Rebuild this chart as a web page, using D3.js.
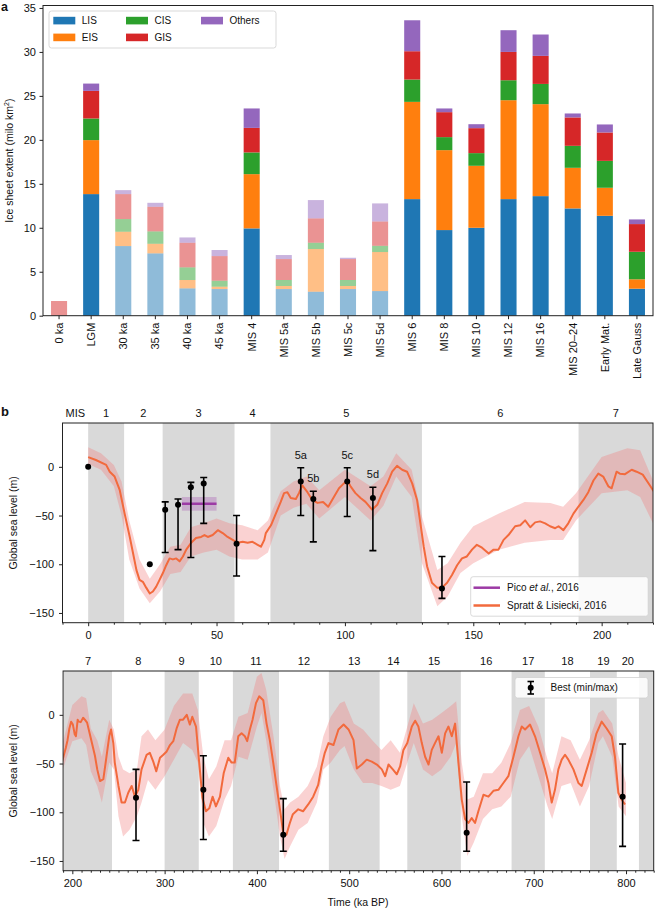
<!DOCTYPE html>
<html><head><meta charset="utf-8">
<script src="https://cdn.jsdelivr.net/npm/d3@7"></script>
<style>
body{margin:0;background:#fff;}
svg text{font-family:"Liberation Sans",Arial,Helvetica,sans-serif;fill:#111;}
</style></head>
<body>
<svg id="chart" width="655" height="909"></svg>
<script>
// ---------------- Panel a data ----------------
const categories = ["0 ka","LGM","30 ka","35 ka","40 ka","45 ka","MIS 4","MIS 5a","MIS 5b","MIS 5c","MIS 5d","MIS 6","MIS 8","MIS 10","MIS 12","MIS 16","MIS 20–24","Early Mat.","Late Gauss"];
const LIS    = [0, 13.83, 7.92, 7.09, 3.11, 3.03, 9.93, 3.03, 2.73, 3.03, 2.80, 13.26, 9.74, 10.00, 13.26, 13.60, 12.20, 11.36, 3.07];
const EIS    = [0, 6.14, 1.63, 1.09, 0.95, 0.27, 6.17, 0.35, 4.85, 0.35, 4.44, 11.06, 9.09, 7.05, 11.25, 10.46, 4.62, 3.19, 1.07];
const CIS    = [0, 2.46, 1.44, 1.41, 1.44, 0.68, 2.47, 0.68, 0.72, 0.68, 0.71, 2.54, 1.48, 1.44, 2.27, 2.30, 2.50, 3.06, 3.13];
const GIS    = [1.67, 3.14, 2.84, 2.80, 2.80, 2.80, 2.79, 2.38, 2.77, 2.38, 2.77, 3.22, 2.84, 2.84, 3.22, 3.19, 3.23, 3.23, 3.15];
const Others = [0, 0.83, 0.45, 0.45, 0.60, 0.69, 2.21, 0.46, 2.08, 0.15, 2.05, 3.52, 0.42, 0.45, 2.47, 2.43, 0.45, 0.91, 0.53];
const seriesNames = ["LIS","EIS","CIS","GIS","Others"];
const seriesColors = ["#1f77b4","#ff7f0e","#2ca02c","#d62728","#9467bd"];
const fadedCats = ["0 ka","30 ka","35 ka","40 ka","45 ka","MIS 5a","MIS 5b","MIS 5c","MIS 5d"];
const yTicksA = [0,5,10,15,20,25,30,35];

// ---------------- Panel b data ----------------
const slKa = [0,3,7,8.4,10.3,12.3,14.2,16.2,17.5,18.8,20,21.3,22.6,24,25.2,26.5,27.8,29.1,30.4,31.7,33,34.3,35.6,36.9,38.2,40.1,42,44,45.3,46.6,48.5,50.5,52.4,54.3,56.3,58.2,60.2,62.1,64,66,67.3,68.6,69.2,71.2,73.1,75,76.3,77.6,78.9,80.9,82.1,83.4,85.4,87.3,89.3,91.5,93.5,95.7,97.7,99.6,100.9,102.2,104.1,106.1,108,110.6,112.6,114.5,116.5,118.4,120.3,122.3,124.2,126.2,128.1,129.4,130.7,132,133.9,135.9,137.8,139.8,141.7,143.7,145.6,147.5,149.5,151.4,153.4,156,157.9,159.8,161.8,163.7,166.3,168.3,170.2,172.2,174.1,176,178,179.9,181.9,183.2,185.1,187,189,190.9,192.9,194.8,196.8,198.7,200.6,202.6,203.9,205.8,207.1,209.1,211.7,213.6,216,219,221.5,224.5,227,230,233.6,237,240,242,244.4,246,250,253.4,257,260.6,264.3,267.9,271.5,275,280.5,284,287.7,291,295,298.6,302,305.8,309.4,313,316.6,320,324,327.4,330,334,337.5,341,344.8,348.4,352,355.6,360,364,369,372.6,376,379.8,383.4,387,389.5,392.4,395.3,399,402.5,406.9,410.5,414,417.7,421.3,425,428.5,432,435.7,439,444.8,450,455.6,461,466.4,470,473.6,477.6,483,488.4,494,499.3,504.7,508.3,513.7,519,524.5,530,535.4,539,542.6,547.3,551.6,555.2,558.8,563,567.9,571.5,575,578.7,582.3,586,589.5,593,596.8,600.4,604,607.6,611.2,614.8,618.4,622,625.6,629.2,632.8,636.4,640,645.5,650.9,656.3,661.7,667.1,672.5,678,683.4,687,690.6,696,701.4,706.9,712.3,715.9,719.5,723,726.7,730.3,733.9,737.5,743,748.4,752,757.4,762.8,768,773.6,779,784.5,788,791.7,795.3,799];
const slVal = [10,7,2,-5,-10,-24,-48,-72,-89,-106,-116,-118,-124,-130,-128,-123,-116,-109,-101,-94,-95,-94,-97,-92,-85,-78,-73,-72,-70,-72,-70,-65,-68,-72,-75,-78,-77,-78,-77,-80,-82,-75,-68,-60,-48,-36,-27,-26,-32,-33,-27,-19,-26,-34,-37,-36,-41,-31,-22,-17,-14,-20,-27,-32,-36,-44,-39,-27,-17,-5,1,-3,-5,-17,-34,-58,-82,-102,-119,-124,-124,-119,-111,-101,-94,-92,-85,-80,-83,-89,-85,-85,-75,-70,-61,-60,-55,-62,-57,-56,-58,-61,-63,-61,-65,-58,-48,-41,-34,-26,-14,-7,-10,-20,-22,-5,-7,-7.5,-3,-5,-8,-20,-30,-42,-56,-68,-66,-43,-22,-15,-29,-49,-73,-90,-90,-80,-73,-84,-77,-56,-41,-39,-48,-58,-44,-41,-38,-31,-27,-14,-5,-5,0,-10,-2,-12,-49,-85,-99,-96,-84,-94,-84,-60,-44,-49,-49,-22,-19,-22,-27,-15,-5,12,19,15,-9,-26,-49,-73,-97,-121,-123,-111,-102,-97,-99,-92,-84,-72,-53,-39,-29,-31,-15,-10,-15,-26,-55,-51,-46,-48,-51,-56,-63,-51,-56,-61,-53,-36,-29,-12,-6,-12,-29,-43,-51,-36,-29,-22,-39,-19,-12,-22,-9,-49,-87,-107,-111,-106,-111,-99,-82,-84,-78,-77,-70,-63,-43,-22,-12,-15,-10,-22,-39,-56,-70,-90,-77,-56,-46,-41,-46,-56,-70,-73,-56,-39,-19,-7,-14,-22,-43,-80,-87,-92];
const bandKa = [0,5,10,13,16,20,24,28,32,36,40,45,50,55,60,66,70,75,80,85,90,100,110,115,120,126,130,136,140,145,150,160,170,180,185,190,200,210,215,220,227,232,240,245,250,255,262,270,275,282,290,300,310,320,330,336,342,348,356,365,372,380,390,400,405,410,418,425,430,436,445,455,465,472,480,490,495,505,515,525,535,545,555,563,570,580,590,600,610,616,622,628,635,645,655,665,675,685,695,705,715,720,730,740,750,760,770,775,785,792,800];
const bandUp = [20,14,2,-15,-55,-95,-115,-100,-82,-80,-62,-58,-53,-58,-60,-65,-55,-25,-15,-10,-24,-3,-20,-10,14,-3,-51,-106,-99,-78,-61,-48,-36,-37,-41,-27,10,19,17,-14,-26,-43,-5,-15,-43,-56,-60,-56,-22,-15,-26,-15,9,22,22,5,-43,-66,-53,-26,-26,-2,2,39,43,26,-22,-73,-97,-90,-84,-73,-53,-22,-2,12,14,-9,-15,-26,-36,-26,-39,-12,12,-9,-5,2,9,14,-49,-87,-84,-60,-60,-49,-29,5,9,-12,-46,-60,-22,-26,-46,-26,2,5,-9,-43,-70];
const bandLo = [3,-3,-20,-50,-95,-125,-140,-128,-110,-108,-92,-88,-85,-92,-95,-95,-88,-50,-42,-38,-53,-31,-55,-40,-10,-31,-99,-143,-133,-109,-99,-85,-78,-75,-75,-55,-27,-24,-31,-58,-73,-90,-49,-56,-104,-125,-118,-104,-90,-67,-77,-63,-46,-29,-36,-49,-111,-125,-114,-87,-73,-43,-46,-12,2,-26,-77,-125,-148,-135,-118,-111,-90,-56,-49,-36,-32,-56,-70,-70,-73,-77,-73,-49,-29,-56,-63,-56,-43,-29,-104,-145,-131,-107,-97,-94,-84,-46,-32,-63,-94,-107,-73,-70,-94,-73,-29,-22,-43,-94,-104];
// Best (min/max) estimates
const ebKa   = [30, 35, 40, 45, 57.8, 82.8, 87.7, 100.9, 110.9, 137.8, 269, 342, 428.6, 627.3, 796.3];
const ebBest = [-44, -39, -21, -17, -79, -15, -33, -15, -32, -125, -85, -77, -123, -121, -84];
const ebMin  = [-88, -85, -93, -58, -112, -50, -77, -51, -86, -135, -129, -128, -140, -140, -135];
const ebMax  = [-36, -33, -16, -11, -50, -1, -25, -1, -21, -92, -56, -42, -86, -69, -30];
const dotKa  = [0, 24];
const dotVal = [0, -100];
const subLabels = ["5a","5b","5c","5d"];
const subLabelIdx = [5,6,7,8];
// Pico et al. 2016
const picoKa = [36.5, 50];
const picoVal = -38;
const picoRange = [-45, -31];
// MIS boundaries (ka)
const misBounds = [0,14,29,57,71,130,191,243,300,337,374,424,478,533,563,621,676,712,761,790,814,900];
const misTopStages = [1,2,3,4,5,6,7];
const misBotStages = [7,8,9,10,11,12,13,14,15,16,17,18,19,20];
const slTicks = [-150,-100,-50,0];
const topXTicks = [0,50,100,150,200];
const botXTicks = [200,300,400,500,600,700,800];

// ---------------- Drawing ----------------
const svg = d3.select("#chart");
const font = '"Liberation Sans",Arial,Helvetica,sans-serif';
const spineColor = "#222";

// ===== Panel a =====
const xA = d3.scaleBand().domain(categories).range([43,653]).paddingInner(0.5).paddingOuter(0.25);
const yA = d3.scaleLinear().domain([0,35.28]).range([315.7,5.5]);
const gA = svg.append("g");
const seriesVals = [LIS,EIS,CIS,GIS,Others];
categories.forEach((c,i)=>{
  let base = 0;
  const faded = fadedCats.includes(c);
  seriesVals.forEach((arr,s)=>{
    const v = arr[i];
    if(v>0){
      gA.append("rect").attr("x",xA(c)).attr("width",xA.bandwidth())
        .attr("y",yA(base+v)).attr("height",yA(base)-yA(base+v))
        .attr("fill",seriesColors[s]).attr("fill-opacity",faded?0.5:1);
    }
    base += v;
  });
});
gA.append("rect").attr("x",43).attr("y",5.5).attr("width",610).attr("height",315.7-5.5)
  .attr("fill","none").attr("stroke",spineColor).attr("stroke-width",1);
const axA = gA.append("g").attr("transform","translate(43,0)")
  .call(d3.axisLeft(yA).tickValues(yTicksA).tickSize(3.5).tickPadding(3.5));
axA.select(".domain").remove();
const axAx = gA.append("g").attr("transform","translate(0,315.7)")
  .call(d3.axisBottom(xA).tickSize(3.5).tickPadding(4));
axAx.select(".domain").remove();
axAx.selectAll("text").attr("transform","translate(0,3) rotate(-90)")
  .attr("text-anchor","end").attr("x",-4).attr("y",0).attr("dy","0.35em");
[axA,axAx].forEach(a=>{a.selectAll("text").attr("font-size",11).attr("font-family",font).attr("fill","#111");
  a.selectAll("line").attr("stroke",spineColor);});
gA.append("text").attr("transform","translate(13,160.6) rotate(-90)").attr("text-anchor","middle")
  .attr("font-size",10.5).html('Ice sheet extent (milo km<tspan dy="-4" font-size="7">2</tspan><tspan dy="4">)</tspan>');
const legA = gA.append("g");
legA.append("rect").attr("x",49).attr("y",11).attr("width",227).attr("height",37).attr("rx",2.5)
  .attr("fill","#fff").attr("fill-opacity",0.8).attr("stroke","#cfcfcf").attr("stroke-width",0.8);
const legPos = [[53.3,16.8],[53.3,33.6],[126,16.8],[126,33.6],[201,16.8]];
seriesNames.forEach((n,s)=>{
  const [lx,ly] = legPos[s];
  legA.append("rect").attr("x",lx).attr("y",ly).attr("width",22).attr("height",7.6).attr("fill",seriesColors[s]);
  legA.append("text").attr("x",lx+28.5).attr("y",ly+7.4).attr("font-size",10).text(n);
});
svg.append("text").attr("x",1).attr("y",11).attr("font-size",12.5).attr("font-weight","bold").text("a");
svg.append("text").attr("x",1).attr("y",416).attr("font-size",13).attr("font-weight","bold").text("b");

// ===== Panel b =====
function drawSL(cfg){
  const {x0,x1,y0,y1,domX,stages,xticks,id,minorStep} = cfg;
  const x = d3.scaleLinear().domain(domX).range([x0,x1]);
  const y = d3.scaleLinear().domain([-160,45]).range([y1,y0]);
  const g = svg.append("g");
  const clipId = "clip"+id;
  svg.append("clipPath").attr("id",clipId).append("rect").attr("x",x0).attr("y",y0).attr("width",x1-x0).attr("height",y1-y0);
  const gc = g.append("g").attr("clip-path",`url(#${clipId})`);
  for(let s=1;s<misBounds.length;s++){
    if(s%2===1){
      gc.append("rect").attr("x",x(misBounds[s-1])).attr("width",x(misBounds[s])-x(misBounds[s-1]))
        .attr("y",y0).attr("height",y1-y0).attr("fill","#d9d9d9");
    }
  }
  const bandData = bandKa.map((k,i)=>({k,u:bandUp[i],l:bandLo[i]}));
  gc.append("path").datum(bandData)
    .attr("d",d3.area().x(d=>x(d.k)).y0(d=>y(d.l)).y1(d=>y(d.u)))
    .attr("fill","#f07f7f").attr("fill-opacity",0.35);
  gc.append("rect").attr("x",x(picoKa[0])).attr("width",x(picoKa[1])-x(picoKa[0]))
    .attr("y",y(picoRange[1])).attr("height",y(picoRange[0])-y(picoRange[1]))
    .attr("fill","#b77fc0").attr("fill-opacity",0.5);
  const lineData = slKa.map((k,i)=>({k,v:slVal[i]}));
  gc.append("path").datum(lineData).attr("d",d3.line().x(d=>x(d.k)).y(d=>y(d.v)))
    .attr("fill","none").attr("stroke","#f26a3d").attr("stroke-width",2).attr("stroke-linejoin","round");
  gc.append("line").attr("x1",x(picoKa[0])).attr("x2",x(picoKa[1])).attr("y1",y(picoVal)).attr("y2",y(picoVal))
    .attr("stroke","#9c3aa5").attr("stroke-width",2.5);
  ebKa.forEach((k,i)=>{
    if(k<domX[0]||k>domX[1]) return;
    const cx = x(k);
    gc.append("line").attr("x1",cx).attr("x2",cx).attr("y1",y(ebMin[i])).attr("y2",y(ebMax[i])).attr("stroke","#000").attr("stroke-width",1.6);
    [ebMin[i],ebMax[i]].forEach(v=>gc.append("line").attr("x1",cx-3.5).attr("x2",cx+3.5).attr("y1",y(v)).attr("y2",y(v)).attr("stroke","#000").attr("stroke-width",1.6));
    gc.append("circle").attr("cx",cx).attr("cy",y(ebBest[i])).attr("r",3).attr("fill","#000");
  });
  dotKa.forEach((k,i)=>{
    if(k<domX[0]||k>domX[1]) return;
    gc.append("circle").attr("cx",x(k)).attr("cy",y(dotVal[i])).attr("r",3).attr("fill","#000");
  });
  g.append("rect").attr("x",x0).attr("y",y0).attr("width",x1-x0).attr("height",y1-y0)
    .attr("fill","none").attr("stroke",spineColor).attr("stroke-width",1);
  const ay = g.append("g").attr("transform",`translate(${x0},0)`)
    .call(d3.axisLeft(y).tickValues(slTicks).tickSize(3.5).tickPadding(5).tickFormat(d3.format("d")));
  const ax = g.append("g").attr("transform",`translate(0,${y1})`)
    .call(d3.axisBottom(x).tickValues(xticks).tickSize(3.5).tickPadding(5).tickFormat(d3.format("d")));
  const minor = d3.range(Math.ceil(domX[0]/minorStep)*minorStep, domX[1]+0.001, minorStep).filter(v=>!xticks.includes(v));
  const am = g.append("g").attr("transform",`translate(0,${y1})`)
    .call(d3.axisBottom(x).tickValues(minor).tickSize(2).tickFormat(""));
  [ay,ax,am].forEach(a=>{a.select(".domain").remove();
    a.selectAll("text").attr("font-size",11).attr("font-family",font).attr("fill","#111");
    a.selectAll("line").attr("stroke",spineColor);});
  ay.selectAll("text").text(d=>d<0?"\u2212"+Math.abs(d):d);
  stages.forEach(s=>{
    const a = Math.max(misBounds[s-1],domX[0]), b = Math.min(misBounds[s],domX[1]);
    g.append("text").attr("x",x((a+b)/2)).attr("y",y0-6).attr("text-anchor","middle").attr("font-size",11).text(s);
  });
  g.append("text").attr("transform",`translate(17,${(y0+y1)/2}) rotate(-90)`).attr("text-anchor","middle")
    .attr("font-size",10.5).text("Global sea level (m)");
  return {x,y,g};
}

const pTop = drawSL({x0:62.5,x1:653,y0:423,y1:622.7,domX:[-10,220],stages:misTopStages,xticks:topXTicks,id:"t",minorStep:10});
const pBot = drawSL({x0:63.1,x1:653.7,y0:671,y1:870.7,domX:[190,830],stages:misBotStages,xticks:botXTicks,id:"b",minorStep:10});

pTop.g.append("text").attr("x",pTop.x(-5)).attr("y",423-6).attr("text-anchor","middle").attr("font-size",11).text("MIS");
subLabelIdx.forEach((idx,j)=>{
  pTop.g.append("text").attr("x",pTop.x(ebKa[idx])).attr("y",pTop.y(ebMax[idx])-9).attr("text-anchor","middle")
    .attr("font-size",11).text(subLabels[j]);
});
pBot.g.append("text").attr("x",358).attr("y",906).attr("text-anchor","middle").attr("font-size",10.5).text("Time (ka BP)");

const lg1 = pTop.g.append("g");
lg1.append("rect").attr("x",470.7).attr("y",576.7).attr("width",177.5).attr("height",39.5).attr("rx",2.5)
  .attr("fill","#fff").attr("fill-opacity",0.85).attr("stroke","#d0d0d0").attr("stroke-width",0.8);
lg1.append("line").attr("x1",473.5).attr("x2",500).attr("y1",587.7).attr("y2",587.7).attr("stroke","#9c3aa5").attr("stroke-width",2.5);
lg1.append("line").attr("x1",473.5).attr("x2",500).attr("y1",605.5).attr("y2",605.5).attr("stroke","#f26a3d").attr("stroke-width",2.5);
lg1.append("text").attr("x",507).attr("y",591.3).attr("font-size",10)
  .html('Pico <tspan font-style="italic">et al.</tspan>, 2016');
lg1.append("text").attr("x",507).attr("y",609.1).attr("font-size",10).text("Spratt & Lisiecki, 2016");

const lg2 = pBot.g.append("g");
lg2.append("rect").attr("x",515).attr("y",677.5).attr("width",133).attr("height",20.5).attr("rx",2.5)
  .attr("fill","#fff").attr("fill-opacity",0.85).attr("stroke","#d0d0d0").attr("stroke-width",0.8);
lg2.append("line").attr("x1",530.7).attr("x2",530.7).attr("y1",681.5).attr("y2",694).attr("stroke","#000").attr("stroke-width",1.6);
[681.5,694].forEach(v=>lg2.append("line").attr("x1",527.5).attr("x2",534).attr("y1",v).attr("y2",v).attr("stroke","#000").attr("stroke-width",1.6));
lg2.append("circle").attr("cx",530.7).attr("cy",687.7).attr("r",3).attr("fill","#000");
lg2.append("text").attr("x",550.5).attr("y",691.3).attr("font-size",10).text("Best (min/max)");
</script>
</body></html>
